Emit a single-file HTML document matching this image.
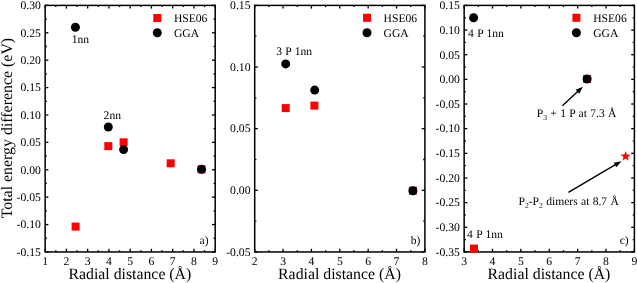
<!DOCTYPE html>
<html><head><meta charset="utf-8"><style>
html,body{margin:0;padding:0;background:#fff;}
svg{display:block;will-change:transform;font-family:"Liberation Serif",serif;}
text{font-family:"Liberation Serif",serif;fill:#000;text-rendering:geometricPrecision;}
</style></head><body>
<svg width="637" height="283" viewBox="0 0 637 283">
<rect width="637" height="283" fill="#fff"/>
<rect x="45.15" y="5.4" width="170.05" height="246.54999999999998" fill="none" stroke="#000" stroke-width="1.5"/>
<line x1="45.15" y1="251.95" x2="45.15" y2="248.75" stroke="#000" stroke-width="1.3"/>
<line x1="45.15" y1="5.40" x2="45.15" y2="8.60" stroke="#000" stroke-width="1.3"/>
<text x="45.15" y="265.05" font-size="11.7" text-anchor="middle" >1</text>
<line x1="55.78" y1="251.95" x2="55.78" y2="250.25" stroke="#000" stroke-width="1.3"/>
<line x1="55.78" y1="5.40" x2="55.78" y2="7.10" stroke="#000" stroke-width="1.3"/>
<line x1="66.41" y1="251.95" x2="66.41" y2="248.75" stroke="#000" stroke-width="1.3"/>
<line x1="66.41" y1="5.40" x2="66.41" y2="8.60" stroke="#000" stroke-width="1.3"/>
<text x="66.41" y="265.05" font-size="11.7" text-anchor="middle" >2</text>
<line x1="77.03" y1="251.95" x2="77.03" y2="250.25" stroke="#000" stroke-width="1.3"/>
<line x1="77.03" y1="5.40" x2="77.03" y2="7.10" stroke="#000" stroke-width="1.3"/>
<line x1="87.66" y1="251.95" x2="87.66" y2="248.75" stroke="#000" stroke-width="1.3"/>
<line x1="87.66" y1="5.40" x2="87.66" y2="8.60" stroke="#000" stroke-width="1.3"/>
<text x="87.66" y="265.05" font-size="11.7" text-anchor="middle" >3</text>
<line x1="98.29" y1="251.95" x2="98.29" y2="250.25" stroke="#000" stroke-width="1.3"/>
<line x1="98.29" y1="5.40" x2="98.29" y2="7.10" stroke="#000" stroke-width="1.3"/>
<line x1="108.92" y1="251.95" x2="108.92" y2="248.75" stroke="#000" stroke-width="1.3"/>
<line x1="108.92" y1="5.40" x2="108.92" y2="8.60" stroke="#000" stroke-width="1.3"/>
<text x="108.92" y="265.05" font-size="11.7" text-anchor="middle" >4</text>
<line x1="119.55" y1="251.95" x2="119.55" y2="250.25" stroke="#000" stroke-width="1.3"/>
<line x1="119.55" y1="5.40" x2="119.55" y2="7.10" stroke="#000" stroke-width="1.3"/>
<line x1="130.17" y1="251.95" x2="130.17" y2="248.75" stroke="#000" stroke-width="1.3"/>
<line x1="130.17" y1="5.40" x2="130.17" y2="8.60" stroke="#000" stroke-width="1.3"/>
<text x="130.17" y="265.05" font-size="11.7" text-anchor="middle" >5</text>
<line x1="140.80" y1="251.95" x2="140.80" y2="250.25" stroke="#000" stroke-width="1.3"/>
<line x1="140.80" y1="5.40" x2="140.80" y2="7.10" stroke="#000" stroke-width="1.3"/>
<line x1="151.43" y1="251.95" x2="151.43" y2="248.75" stroke="#000" stroke-width="1.3"/>
<line x1="151.43" y1="5.40" x2="151.43" y2="8.60" stroke="#000" stroke-width="1.3"/>
<text x="151.43" y="265.05" font-size="11.7" text-anchor="middle" >6</text>
<line x1="162.06" y1="251.95" x2="162.06" y2="250.25" stroke="#000" stroke-width="1.3"/>
<line x1="162.06" y1="5.40" x2="162.06" y2="7.10" stroke="#000" stroke-width="1.3"/>
<line x1="172.69" y1="251.95" x2="172.69" y2="248.75" stroke="#000" stroke-width="1.3"/>
<line x1="172.69" y1="5.40" x2="172.69" y2="8.60" stroke="#000" stroke-width="1.3"/>
<text x="172.69" y="265.05" font-size="11.7" text-anchor="middle" >7</text>
<line x1="183.32" y1="251.95" x2="183.32" y2="250.25" stroke="#000" stroke-width="1.3"/>
<line x1="183.32" y1="5.40" x2="183.32" y2="7.10" stroke="#000" stroke-width="1.3"/>
<line x1="193.94" y1="251.95" x2="193.94" y2="248.75" stroke="#000" stroke-width="1.3"/>
<line x1="193.94" y1="5.40" x2="193.94" y2="8.60" stroke="#000" stroke-width="1.3"/>
<text x="193.94" y="265.05" font-size="11.7" text-anchor="middle" >8</text>
<line x1="204.57" y1="251.95" x2="204.57" y2="250.25" stroke="#000" stroke-width="1.3"/>
<line x1="204.57" y1="5.40" x2="204.57" y2="7.10" stroke="#000" stroke-width="1.3"/>
<line x1="215.20" y1="251.95" x2="215.20" y2="248.75" stroke="#000" stroke-width="1.3"/>
<line x1="215.20" y1="5.40" x2="215.20" y2="8.60" stroke="#000" stroke-width="1.3"/>
<text x="215.20" y="265.05" font-size="11.7" text-anchor="middle" >9</text>
<line x1="45.15" y1="5.40" x2="48.35" y2="5.40" stroke="#000" stroke-width="1.3"/>
<line x1="215.20" y1="5.40" x2="212.00" y2="5.40" stroke="#000" stroke-width="1.3"/>
<text x="40.95" y="9.20" font-size="11.7" text-anchor="end" >0.30</text>
<line x1="45.15" y1="19.10" x2="46.85" y2="19.10" stroke="#000" stroke-width="1.3"/>
<line x1="215.20" y1="19.10" x2="213.50" y2="19.10" stroke="#000" stroke-width="1.3"/>
<line x1="45.15" y1="32.79" x2="48.35" y2="32.79" stroke="#000" stroke-width="1.3"/>
<line x1="215.20" y1="32.79" x2="212.00" y2="32.79" stroke="#000" stroke-width="1.3"/>
<text x="40.95" y="36.59" font-size="11.7" text-anchor="end" >0.25</text>
<line x1="45.15" y1="46.49" x2="46.85" y2="46.49" stroke="#000" stroke-width="1.3"/>
<line x1="215.20" y1="46.49" x2="213.50" y2="46.49" stroke="#000" stroke-width="1.3"/>
<line x1="45.15" y1="60.19" x2="48.35" y2="60.19" stroke="#000" stroke-width="1.3"/>
<line x1="215.20" y1="60.19" x2="212.00" y2="60.19" stroke="#000" stroke-width="1.3"/>
<text x="40.95" y="63.99" font-size="11.7" text-anchor="end" >0.20</text>
<line x1="45.15" y1="73.89" x2="46.85" y2="73.89" stroke="#000" stroke-width="1.3"/>
<line x1="215.20" y1="73.89" x2="213.50" y2="73.89" stroke="#000" stroke-width="1.3"/>
<line x1="45.15" y1="87.58" x2="48.35" y2="87.58" stroke="#000" stroke-width="1.3"/>
<line x1="215.20" y1="87.58" x2="212.00" y2="87.58" stroke="#000" stroke-width="1.3"/>
<text x="40.95" y="91.38" font-size="11.7" text-anchor="end" >0.15</text>
<line x1="45.15" y1="101.28" x2="46.85" y2="101.28" stroke="#000" stroke-width="1.3"/>
<line x1="215.20" y1="101.28" x2="213.50" y2="101.28" stroke="#000" stroke-width="1.3"/>
<line x1="45.15" y1="114.98" x2="48.35" y2="114.98" stroke="#000" stroke-width="1.3"/>
<line x1="215.20" y1="114.98" x2="212.00" y2="114.98" stroke="#000" stroke-width="1.3"/>
<text x="40.95" y="118.78" font-size="11.7" text-anchor="end" >0.10</text>
<line x1="45.15" y1="128.67" x2="46.85" y2="128.67" stroke="#000" stroke-width="1.3"/>
<line x1="215.20" y1="128.67" x2="213.50" y2="128.67" stroke="#000" stroke-width="1.3"/>
<line x1="45.15" y1="142.37" x2="48.35" y2="142.37" stroke="#000" stroke-width="1.3"/>
<line x1="215.20" y1="142.37" x2="212.00" y2="142.37" stroke="#000" stroke-width="1.3"/>
<text x="40.95" y="146.17" font-size="11.7" text-anchor="end" >0.05</text>
<line x1="45.15" y1="156.07" x2="46.85" y2="156.07" stroke="#000" stroke-width="1.3"/>
<line x1="215.20" y1="156.07" x2="213.50" y2="156.07" stroke="#000" stroke-width="1.3"/>
<line x1="45.15" y1="169.77" x2="48.35" y2="169.77" stroke="#000" stroke-width="1.3"/>
<line x1="215.20" y1="169.77" x2="212.00" y2="169.77" stroke="#000" stroke-width="1.3"/>
<text x="40.95" y="173.57" font-size="11.7" text-anchor="end" >0.00</text>
<line x1="45.15" y1="183.46" x2="46.85" y2="183.46" stroke="#000" stroke-width="1.3"/>
<line x1="215.20" y1="183.46" x2="213.50" y2="183.46" stroke="#000" stroke-width="1.3"/>
<line x1="45.15" y1="197.16" x2="48.35" y2="197.16" stroke="#000" stroke-width="1.3"/>
<line x1="215.20" y1="197.16" x2="212.00" y2="197.16" stroke="#000" stroke-width="1.3"/>
<text x="40.95" y="200.96" font-size="11.7" text-anchor="end" >-0.05</text>
<line x1="45.15" y1="210.86" x2="46.85" y2="210.86" stroke="#000" stroke-width="1.3"/>
<line x1="215.20" y1="210.86" x2="213.50" y2="210.86" stroke="#000" stroke-width="1.3"/>
<line x1="45.15" y1="224.56" x2="48.35" y2="224.56" stroke="#000" stroke-width="1.3"/>
<line x1="215.20" y1="224.56" x2="212.00" y2="224.56" stroke="#000" stroke-width="1.3"/>
<text x="40.95" y="228.36" font-size="11.7" text-anchor="end" >-0.10</text>
<line x1="45.15" y1="238.25" x2="46.85" y2="238.25" stroke="#000" stroke-width="1.3"/>
<line x1="215.20" y1="238.25" x2="213.50" y2="238.25" stroke="#000" stroke-width="1.3"/>
<line x1="45.15" y1="251.95" x2="48.35" y2="251.95" stroke="#000" stroke-width="1.3"/>
<line x1="215.20" y1="251.95" x2="212.00" y2="251.95" stroke="#000" stroke-width="1.3"/>
<text x="40.95" y="255.75" font-size="11.7" text-anchor="end" >-0.15</text>
<text x="129.87" y="279.25" font-size="15.8" text-anchor="middle" >Radial distance (Å)</text>
<rect x="254.70" y="5.4" width="170.20" height="246.54999999999998" fill="none" stroke="#000" stroke-width="1.5"/>
<line x1="254.70" y1="251.95" x2="254.70" y2="248.75" stroke="#000" stroke-width="1.3"/>
<line x1="254.70" y1="5.40" x2="254.70" y2="8.60" stroke="#000" stroke-width="1.3"/>
<text x="254.70" y="265.05" font-size="11.7" text-anchor="middle" >2</text>
<line x1="268.88" y1="251.95" x2="268.88" y2="250.25" stroke="#000" stroke-width="1.3"/>
<line x1="268.88" y1="5.40" x2="268.88" y2="7.10" stroke="#000" stroke-width="1.3"/>
<line x1="283.07" y1="251.95" x2="283.07" y2="248.75" stroke="#000" stroke-width="1.3"/>
<line x1="283.07" y1="5.40" x2="283.07" y2="8.60" stroke="#000" stroke-width="1.3"/>
<text x="283.07" y="265.05" font-size="11.7" text-anchor="middle" >3</text>
<line x1="297.25" y1="251.95" x2="297.25" y2="250.25" stroke="#000" stroke-width="1.3"/>
<line x1="297.25" y1="5.40" x2="297.25" y2="7.10" stroke="#000" stroke-width="1.3"/>
<line x1="311.43" y1="251.95" x2="311.43" y2="248.75" stroke="#000" stroke-width="1.3"/>
<line x1="311.43" y1="5.40" x2="311.43" y2="8.60" stroke="#000" stroke-width="1.3"/>
<text x="311.43" y="265.05" font-size="11.7" text-anchor="middle" >4</text>
<line x1="325.62" y1="251.95" x2="325.62" y2="250.25" stroke="#000" stroke-width="1.3"/>
<line x1="325.62" y1="5.40" x2="325.62" y2="7.10" stroke="#000" stroke-width="1.3"/>
<line x1="339.80" y1="251.95" x2="339.80" y2="248.75" stroke="#000" stroke-width="1.3"/>
<line x1="339.80" y1="5.40" x2="339.80" y2="8.60" stroke="#000" stroke-width="1.3"/>
<text x="339.80" y="265.05" font-size="11.7" text-anchor="middle" >5</text>
<line x1="353.98" y1="251.95" x2="353.98" y2="250.25" stroke="#000" stroke-width="1.3"/>
<line x1="353.98" y1="5.40" x2="353.98" y2="7.10" stroke="#000" stroke-width="1.3"/>
<line x1="368.17" y1="251.95" x2="368.17" y2="248.75" stroke="#000" stroke-width="1.3"/>
<line x1="368.17" y1="5.40" x2="368.17" y2="8.60" stroke="#000" stroke-width="1.3"/>
<text x="368.17" y="265.05" font-size="11.7" text-anchor="middle" >6</text>
<line x1="382.35" y1="251.95" x2="382.35" y2="250.25" stroke="#000" stroke-width="1.3"/>
<line x1="382.35" y1="5.40" x2="382.35" y2="7.10" stroke="#000" stroke-width="1.3"/>
<line x1="396.53" y1="251.95" x2="396.53" y2="248.75" stroke="#000" stroke-width="1.3"/>
<line x1="396.53" y1="5.40" x2="396.53" y2="8.60" stroke="#000" stroke-width="1.3"/>
<text x="396.53" y="265.05" font-size="11.7" text-anchor="middle" >7</text>
<line x1="410.72" y1="251.95" x2="410.72" y2="250.25" stroke="#000" stroke-width="1.3"/>
<line x1="410.72" y1="5.40" x2="410.72" y2="7.10" stroke="#000" stroke-width="1.3"/>
<line x1="424.90" y1="251.95" x2="424.90" y2="248.75" stroke="#000" stroke-width="1.3"/>
<line x1="424.90" y1="5.40" x2="424.90" y2="8.60" stroke="#000" stroke-width="1.3"/>
<text x="424.90" y="265.05" font-size="11.7" text-anchor="middle" >8</text>
<line x1="254.70" y1="5.40" x2="257.90" y2="5.40" stroke="#000" stroke-width="1.3"/>
<line x1="424.90" y1="5.40" x2="421.70" y2="5.40" stroke="#000" stroke-width="1.3"/>
<text x="250.50" y="9.20" font-size="11.7" text-anchor="end" >0.15</text>
<line x1="254.70" y1="36.22" x2="256.40" y2="36.22" stroke="#000" stroke-width="1.3"/>
<line x1="424.90" y1="36.22" x2="423.20" y2="36.22" stroke="#000" stroke-width="1.3"/>
<line x1="254.70" y1="67.04" x2="257.90" y2="67.04" stroke="#000" stroke-width="1.3"/>
<line x1="424.90" y1="67.04" x2="421.70" y2="67.04" stroke="#000" stroke-width="1.3"/>
<text x="250.50" y="70.84" font-size="11.7" text-anchor="end" >0.10</text>
<line x1="254.70" y1="97.86" x2="256.40" y2="97.86" stroke="#000" stroke-width="1.3"/>
<line x1="424.90" y1="97.86" x2="423.20" y2="97.86" stroke="#000" stroke-width="1.3"/>
<line x1="254.70" y1="128.67" x2="257.90" y2="128.67" stroke="#000" stroke-width="1.3"/>
<line x1="424.90" y1="128.67" x2="421.70" y2="128.67" stroke="#000" stroke-width="1.3"/>
<text x="250.50" y="132.47" font-size="11.7" text-anchor="end" >0.05</text>
<line x1="254.70" y1="159.49" x2="256.40" y2="159.49" stroke="#000" stroke-width="1.3"/>
<line x1="424.90" y1="159.49" x2="423.20" y2="159.49" stroke="#000" stroke-width="1.3"/>
<line x1="254.70" y1="190.31" x2="257.90" y2="190.31" stroke="#000" stroke-width="1.3"/>
<line x1="424.90" y1="190.31" x2="421.70" y2="190.31" stroke="#000" stroke-width="1.3"/>
<text x="250.50" y="194.11" font-size="11.7" text-anchor="end" >0.00</text>
<line x1="254.70" y1="221.13" x2="256.40" y2="221.13" stroke="#000" stroke-width="1.3"/>
<line x1="424.90" y1="221.13" x2="423.20" y2="221.13" stroke="#000" stroke-width="1.3"/>
<line x1="254.70" y1="251.95" x2="257.90" y2="251.95" stroke="#000" stroke-width="1.3"/>
<line x1="424.90" y1="251.95" x2="421.70" y2="251.95" stroke="#000" stroke-width="1.3"/>
<text x="250.50" y="255.75" font-size="11.7" text-anchor="end" >-0.05</text>
<text x="339.50" y="279.25" font-size="15.8" text-anchor="middle" >Radial distance (Å)</text>
<rect x="464.15" y="5.4" width="170.25" height="246.54999999999998" fill="none" stroke="#000" stroke-width="1.5"/>
<line x1="464.15" y1="251.95" x2="464.15" y2="248.75" stroke="#000" stroke-width="1.3"/>
<line x1="464.15" y1="5.40" x2="464.15" y2="8.60" stroke="#000" stroke-width="1.3"/>
<text x="464.15" y="265.05" font-size="11.7" text-anchor="middle" >3</text>
<line x1="478.34" y1="251.95" x2="478.34" y2="250.25" stroke="#000" stroke-width="1.3"/>
<line x1="478.34" y1="5.40" x2="478.34" y2="7.10" stroke="#000" stroke-width="1.3"/>
<line x1="492.52" y1="251.95" x2="492.52" y2="248.75" stroke="#000" stroke-width="1.3"/>
<line x1="492.52" y1="5.40" x2="492.52" y2="8.60" stroke="#000" stroke-width="1.3"/>
<text x="492.52" y="265.05" font-size="11.7" text-anchor="middle" >4</text>
<line x1="506.71" y1="251.95" x2="506.71" y2="250.25" stroke="#000" stroke-width="1.3"/>
<line x1="506.71" y1="5.40" x2="506.71" y2="7.10" stroke="#000" stroke-width="1.3"/>
<line x1="520.90" y1="251.95" x2="520.90" y2="248.75" stroke="#000" stroke-width="1.3"/>
<line x1="520.90" y1="5.40" x2="520.90" y2="8.60" stroke="#000" stroke-width="1.3"/>
<text x="520.90" y="265.05" font-size="11.7" text-anchor="middle" >5</text>
<line x1="535.09" y1="251.95" x2="535.09" y2="250.25" stroke="#000" stroke-width="1.3"/>
<line x1="535.09" y1="5.40" x2="535.09" y2="7.10" stroke="#000" stroke-width="1.3"/>
<line x1="549.27" y1="251.95" x2="549.27" y2="248.75" stroke="#000" stroke-width="1.3"/>
<line x1="549.27" y1="5.40" x2="549.27" y2="8.60" stroke="#000" stroke-width="1.3"/>
<text x="549.27" y="265.05" font-size="11.7" text-anchor="middle" >6</text>
<line x1="563.46" y1="251.95" x2="563.46" y2="250.25" stroke="#000" stroke-width="1.3"/>
<line x1="563.46" y1="5.40" x2="563.46" y2="7.10" stroke="#000" stroke-width="1.3"/>
<line x1="577.65" y1="251.95" x2="577.65" y2="248.75" stroke="#000" stroke-width="1.3"/>
<line x1="577.65" y1="5.40" x2="577.65" y2="8.60" stroke="#000" stroke-width="1.3"/>
<text x="577.65" y="265.05" font-size="11.7" text-anchor="middle" >7</text>
<line x1="591.84" y1="251.95" x2="591.84" y2="250.25" stroke="#000" stroke-width="1.3"/>
<line x1="591.84" y1="5.40" x2="591.84" y2="7.10" stroke="#000" stroke-width="1.3"/>
<line x1="606.02" y1="251.95" x2="606.02" y2="248.75" stroke="#000" stroke-width="1.3"/>
<line x1="606.02" y1="5.40" x2="606.02" y2="8.60" stroke="#000" stroke-width="1.3"/>
<text x="606.02" y="265.05" font-size="11.7" text-anchor="middle" >8</text>
<line x1="620.21" y1="251.95" x2="620.21" y2="250.25" stroke="#000" stroke-width="1.3"/>
<line x1="620.21" y1="5.40" x2="620.21" y2="7.10" stroke="#000" stroke-width="1.3"/>
<line x1="634.40" y1="251.95" x2="634.40" y2="248.75" stroke="#000" stroke-width="1.3"/>
<line x1="634.40" y1="5.40" x2="634.40" y2="8.60" stroke="#000" stroke-width="1.3"/>
<text x="634.40" y="265.05" font-size="11.7" text-anchor="middle" >9</text>
<line x1="464.15" y1="5.40" x2="467.35" y2="5.40" stroke="#000" stroke-width="1.3"/>
<line x1="634.40" y1="5.40" x2="631.20" y2="5.40" stroke="#000" stroke-width="1.3"/>
<text x="459.95" y="9.20" font-size="11.7" text-anchor="end" >0.15</text>
<line x1="464.15" y1="17.73" x2="465.85" y2="17.73" stroke="#000" stroke-width="1.3"/>
<line x1="634.40" y1="17.73" x2="632.70" y2="17.73" stroke="#000" stroke-width="1.3"/>
<line x1="464.15" y1="30.05" x2="467.35" y2="30.05" stroke="#000" stroke-width="1.3"/>
<line x1="634.40" y1="30.05" x2="631.20" y2="30.05" stroke="#000" stroke-width="1.3"/>
<text x="459.95" y="33.85" font-size="11.7" text-anchor="end" >0.10</text>
<line x1="464.15" y1="42.38" x2="465.85" y2="42.38" stroke="#000" stroke-width="1.3"/>
<line x1="634.40" y1="42.38" x2="632.70" y2="42.38" stroke="#000" stroke-width="1.3"/>
<line x1="464.15" y1="54.71" x2="467.35" y2="54.71" stroke="#000" stroke-width="1.3"/>
<line x1="634.40" y1="54.71" x2="631.20" y2="54.71" stroke="#000" stroke-width="1.3"/>
<text x="459.95" y="58.51" font-size="11.7" text-anchor="end" >0.05</text>
<line x1="464.15" y1="67.04" x2="465.85" y2="67.04" stroke="#000" stroke-width="1.3"/>
<line x1="634.40" y1="67.04" x2="632.70" y2="67.04" stroke="#000" stroke-width="1.3"/>
<line x1="464.15" y1="79.36" x2="467.35" y2="79.36" stroke="#000" stroke-width="1.3"/>
<line x1="634.40" y1="79.36" x2="631.20" y2="79.36" stroke="#000" stroke-width="1.3"/>
<text x="459.95" y="83.16" font-size="11.7" text-anchor="end" >0.00</text>
<line x1="464.15" y1="91.69" x2="465.85" y2="91.69" stroke="#000" stroke-width="1.3"/>
<line x1="634.40" y1="91.69" x2="632.70" y2="91.69" stroke="#000" stroke-width="1.3"/>
<line x1="464.15" y1="104.02" x2="467.35" y2="104.02" stroke="#000" stroke-width="1.3"/>
<line x1="634.40" y1="104.02" x2="631.20" y2="104.02" stroke="#000" stroke-width="1.3"/>
<text x="459.95" y="107.82" font-size="11.7" text-anchor="end" >-0.05</text>
<line x1="464.15" y1="116.35" x2="465.85" y2="116.35" stroke="#000" stroke-width="1.3"/>
<line x1="634.40" y1="116.35" x2="632.70" y2="116.35" stroke="#000" stroke-width="1.3"/>
<line x1="464.15" y1="128.67" x2="467.35" y2="128.67" stroke="#000" stroke-width="1.3"/>
<line x1="634.40" y1="128.67" x2="631.20" y2="128.67" stroke="#000" stroke-width="1.3"/>
<text x="459.95" y="132.47" font-size="11.7" text-anchor="end" >-0.10</text>
<line x1="464.15" y1="141.00" x2="465.85" y2="141.00" stroke="#000" stroke-width="1.3"/>
<line x1="634.40" y1="141.00" x2="632.70" y2="141.00" stroke="#000" stroke-width="1.3"/>
<line x1="464.15" y1="153.33" x2="467.35" y2="153.33" stroke="#000" stroke-width="1.3"/>
<line x1="634.40" y1="153.33" x2="631.20" y2="153.33" stroke="#000" stroke-width="1.3"/>
<text x="459.95" y="157.13" font-size="11.7" text-anchor="end" >-0.15</text>
<line x1="464.15" y1="165.66" x2="465.85" y2="165.66" stroke="#000" stroke-width="1.3"/>
<line x1="634.40" y1="165.66" x2="632.70" y2="165.66" stroke="#000" stroke-width="1.3"/>
<line x1="464.15" y1="177.98" x2="467.35" y2="177.98" stroke="#000" stroke-width="1.3"/>
<line x1="634.40" y1="177.98" x2="631.20" y2="177.98" stroke="#000" stroke-width="1.3"/>
<text x="459.95" y="181.78" font-size="11.7" text-anchor="end" >-0.20</text>
<line x1="464.15" y1="190.31" x2="465.85" y2="190.31" stroke="#000" stroke-width="1.3"/>
<line x1="634.40" y1="190.31" x2="632.70" y2="190.31" stroke="#000" stroke-width="1.3"/>
<line x1="464.15" y1="202.64" x2="467.35" y2="202.64" stroke="#000" stroke-width="1.3"/>
<line x1="634.40" y1="202.64" x2="631.20" y2="202.64" stroke="#000" stroke-width="1.3"/>
<text x="459.95" y="206.44" font-size="11.7" text-anchor="end" >-0.25</text>
<line x1="464.15" y1="214.97" x2="465.85" y2="214.97" stroke="#000" stroke-width="1.3"/>
<line x1="634.40" y1="214.97" x2="632.70" y2="214.97" stroke="#000" stroke-width="1.3"/>
<line x1="464.15" y1="227.29" x2="467.35" y2="227.29" stroke="#000" stroke-width="1.3"/>
<line x1="634.40" y1="227.29" x2="631.20" y2="227.29" stroke="#000" stroke-width="1.3"/>
<text x="459.95" y="231.09" font-size="11.7" text-anchor="end" >-0.30</text>
<line x1="464.15" y1="239.62" x2="465.85" y2="239.62" stroke="#000" stroke-width="1.3"/>
<line x1="634.40" y1="239.62" x2="632.70" y2="239.62" stroke="#000" stroke-width="1.3"/>
<line x1="464.15" y1="251.95" x2="467.35" y2="251.95" stroke="#000" stroke-width="1.3"/>
<line x1="634.40" y1="251.95" x2="631.20" y2="251.95" stroke="#000" stroke-width="1.3"/>
<text x="459.95" y="255.75" font-size="11.7" text-anchor="end" >-0.35</text>
<text x="548.98" y="279.25" font-size="15.8" text-anchor="middle" >Radial distance (Å)</text>
<text transform="translate(12.2,128.1) rotate(-90)" font-size="15.9" text-anchor="middle">Total energy difference (eV)</text>
<rect x="71.60" y="222.60" width="8" height="8" fill="#f00"/>
<rect x="104.30" y="142.10" width="8" height="8" fill="#f00"/>
<rect x="119.60" y="138.30" width="8" height="8" fill="#f00"/>
<rect x="166.70" y="159.30" width="8" height="8" fill="#f00"/>
<rect x="197.50" y="165.30" width="8" height="8" fill="#f00"/>
<circle cx="75.40" cy="27.20" r="4.5" fill="#000"/>
<circle cx="108.30" cy="127.00" r="4.5" fill="#000"/>
<circle cx="123.60" cy="149.60" r="4.5" fill="#000"/>
<circle cx="201.50" cy="169.30" r="4.5" fill="#000"/>
<text x="71.70" y="42.50" font-size="11.6" text-anchor="start" >1nn</text>
<text x="103.60" y="119.00" font-size="11.6" text-anchor="start" >2nn</text>
<text x="199.60" y="243.90" font-size="11.6" text-anchor="start" >a)</text>
<rect x="153.30" y="14.00" width="8" height="8" fill="#f00"/>
<circle cx="157.30" cy="32.80" r="4.5" fill="#000"/>
<text x="173.90" y="21.70" font-size="11.6" text-anchor="start" >HSE06</text>
<text x="173.90" y="36.60" font-size="11.6" text-anchor="start" >GGA</text>
<rect x="281.70" y="104.10" width="8" height="8" fill="#f00"/>
<rect x="310.40" y="101.60" width="8" height="8" fill="#f00"/>
<rect x="408.90" y="186.70" width="8" height="8" fill="#f00"/>
<circle cx="285.70" cy="63.90" r="4.5" fill="#000"/>
<circle cx="314.70" cy="90.10" r="4.5" fill="#000"/>
<circle cx="412.90" cy="190.70" r="4.5" fill="#000"/>
<text x="276.20" y="54.70" font-size="11.6" text-anchor="start" word-spacing="0.45">3 P 1nn</text>
<text x="410.80" y="243.90" font-size="11.6" text-anchor="start" >b)</text>
<rect x="363.00" y="13.80" width="8" height="8" fill="#f00"/>
<circle cx="367.00" cy="32.70" r="4.5" fill="#000"/>
<text x="383.60" y="21.70" font-size="11.6" text-anchor="start" >HSE06</text>
<text x="383.60" y="36.60" font-size="11.6" text-anchor="start" >GGA</text>
<rect x="470.00" y="244.60" width="8" height="8" fill="#f00"/>
<rect x="583.10" y="75.00" width="8" height="8" fill="#f00"/>
<circle cx="473.60" cy="17.70" r="4.5" fill="#000"/>
<circle cx="587.10" cy="79.00" r="4.5" fill="#000"/>
<polygon points="625.60,150.90 626.89,154.62 630.83,154.70 627.69,157.08 628.83,160.85 625.60,158.60 622.37,160.85 623.51,157.08 620.37,154.70 624.31,154.62" fill="#f00"/>
<text x="468.00" y="36.70" font-size="11.6" text-anchor="start" word-spacing="0.45">4 P 1nn</text>
<text x="467.00" y="238.10" font-size="11.6" text-anchor="start" word-spacing="0.45">4 P 1nn</text>
<text x="619.70" y="243.90" font-size="11.6" text-anchor="start" >c)</text>
<rect x="572.40" y="13.80" width="8" height="8" fill="#f00"/>
<circle cx="576.40" cy="32.70" r="4.5" fill="#000"/>
<text x="593.20" y="21.70" font-size="11.6" text-anchor="start" >HSE06</text>
<text x="593.20" y="36.60" font-size="11.6" text-anchor="start" >GGA</text>
<line x1="562.40" y1="105.70" x2="578.21" y2="91.05" stroke="#000" stroke-width="1.4"/>
<polygon points="582.90,86.70 579.24,93.64 575.71,89.82" fill="#000"/>
<line x1="568.40" y1="192.40" x2="615.88" y2="164.45" stroke="#000" stroke-width="1.4"/>
<polygon points="621.40,161.20 616.34,167.19 613.70,162.71" fill="#000"/>
<text x="536.80" y="117.00" font-size="11.6" text-anchor="start" word-spacing="0.4">P<tspan font-size="7.6" dy="2.8">3</tspan><tspan dy="-2.8"> + 1 P at 7.3 Å</tspan></text>
<text x="518.50" y="204.80" font-size="11.6" text-anchor="start" word-spacing="0.4">P<tspan font-size="7.6" dy="2.8">2</tspan><tspan dy="-2.8">-P</tspan><tspan font-size="7.6" dy="2.8">2</tspan><tspan dy="-2.8"> dimers at 8.7 Å</tspan></text>
</svg></body></html>
